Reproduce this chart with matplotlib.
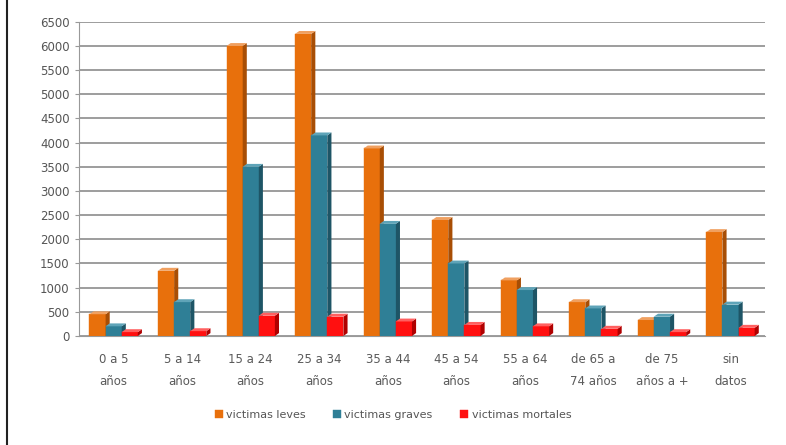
import matplotlib
matplotlib.use("Agg")
import matplotlib.pyplot as plt
import numpy as np
from matplotlib.patches import Polygon

categories = ["0 a 5\naños", "5 a 14\naños", "15 a 24\naños", "25 a 34\naños", "35 a 44\naños",
              "45 a 54\naños", "55 a 64\naños", "de 65 a\n74 años", "de 75\naños a +", "sin\ndatos"]
leves = [450, 1350, 6000, 6250, 3880, 2400, 1150, 700, 330, 2150]
graves = [200, 700, 3500, 4150, 2320, 1500, 950, 570, 400, 650]
mortales = [80, 100, 420, 400, 300, 230, 200, 150, 80, 170]
series_names = ["victimas leves", "victimas graves", "victimas mortales"]
yticks = list(range(0, 6501, 500))

colors = ["#E8700C", "#2F7F96", "#FF1010"]
side_colors = ["#A84E05", "#1E5566", "#B00000"]
top_colors = ["#F0A060", "#5FA4B8", "#FF6060"]

fig = plt.figure(figsize=(7.86, 4.45), dpi=100)
fig.patch.set_facecolor("white")
ax = fig.add_axes([0.101, 0.245, 0.872, 0.706])

x = np.arange(len(categories))
w = 0.235
dx = 0.06
dy = 60
series = [leves, graves, mortales]
offsets = [-w, 0, w]
for si, (vals, off) in enumerate(zip(series, offsets)):
    xs = x + off
    ax.bar(xs, vals, width=w, color=colors[si], zorder=3 + si, label=series_names[si],
           edgecolor=colors[si], linewidth=0.3)
    for xi, v in zip(xs, vals):
        r = xi + w / 2
        l = xi - w / 2
        side = Polygon([(r, 0), (r + dx, dy), (r + dx, v + dy), (r, v)], closed=True,
                       facecolor=side_colors[si], edgecolor="none", zorder=3 + si)
        top = Polygon([(l, v), (l + dx, v + dy), (r + dx, v + dy), (r, v)], closed=True,
                      facecolor=top_colors[si], edgecolor="none", zorder=3 + si)
        ax.add_patch(side)
        ax.add_patch(top)

ax.set_xlim(-0.5, len(categories) - 0.5)
ax.set_ylim(0, 6500)
ax.set_yticks(yticks)
ax.set_yticklabels([str(t) for t in yticks], fontsize=8.5, color="#555555")
ax.set_xticks(x)
ax.set_xticklabels(categories, fontsize=8.5, color="#5a5a5a", linespacing=1.9)
ax.yaxis.grid(True, color="#8c8c8c", linewidth=1.2, zorder=0)
ax.set_axisbelow(True)
for s in ["top", "right"]:
    ax.spines[s].set_visible(False)
ax.spines["left"].set_color("#999999")
ax.spines["bottom"].set_color("#999999")
ax.tick_params(axis="y", length=3, color="#999999", pad=4)
ax.tick_params(axis="x", length=0, pad=12)

handles, labels = ax.get_legend_handles_labels()
fig.legend(handles, labels, loc="center", bbox_to_anchor=(0.5, 0.067), ncol=3, frameon=False,
           fontsize=8, handlelength=0.7, handleheight=0.7, handletextpad=0.3, columnspacing=2.5,
           labelcolor="#555555")

fig.add_artist(plt.Line2D([0.009, 0.009], [0, 1], transform=fig.transFigure, color="#222222", linewidth=1.5))

fig.savefig("out.png", dpi=100)
